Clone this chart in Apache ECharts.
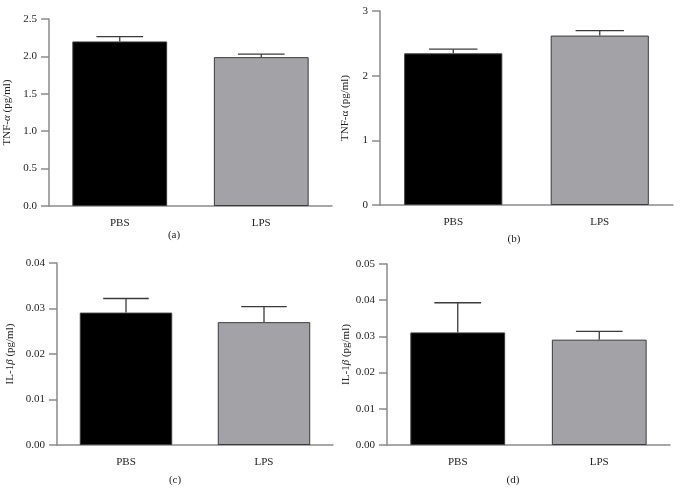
<!DOCTYPE html>
<html>
<head>
<meta charset="utf-8">
<script src="https://cdn.jsdelivr.net/npm/echarts@6/dist/echarts.min.js"></script>
<style>
  html, body { margin: 0; padding: 0; background: #fff; }
  #chart { width: 680px; height: 504px; }
</style>
</head>
<body>
<div id="chart"></div>
<script>
// data
const categories = ['PBS', 'LPS'];
const tnfA = [2.20, 1.99];
const tnfAErr = [0.065, 0.04];
const tnfB = [2.345, 2.62];
const tnfBErr = [0.065, 0.075];
const il1C = [0.0291, 0.0270];
const il1CErr = [0.0031, 0.0034];
const il1D = [0.0311, 0.0291];
const il1DErr = [0.0082, 0.0023];
const panelLabels = ['(a)', '(b)', '(c)', '(d)'];

const FONT = 'Liberation Serif';
const AXIS_COLOR = '#8a8a8a';
const barColors = ['#000000', '#a3a2a7'];

// per panel layout: grid box, y scale, label gap, tick format
const panels = [
  { values: tnfA, errs: tnfAErr, grid: { left: 49, top: 19, width: 283, height: 187 }, max: 2.5, interval: 0.5, digits: 1, nameGap: 36, name: 'TNF-{i|α} (pg/ml)', label: [174, 235] },
  { values: tnfB, errs: tnfBErr, grid: { left: 380, top: 11, width: 293, height: 194 }, max: 3, interval: 1, digits: 0, nameGap: 29, name: 'TNF-{n|α} (pg/ml)', label: [514, 239] },
  { values: il1C, errs: il1CErr, grid: { left: 57, top: 263, width: 276, height: 182 }, max: 0.04, interval: 0.01, digits: 2, nameGap: 41, name: 'IL-1{i|β} (pg/ml)', label: [175, 480] },
  { values: il1D, errs: il1DErr, grid: { left: 387, top: 264, width: 283, height: 181 }, max: 0.05, interval: 0.01, digits: 2, nameGap: 34, name: 'IL-1{i|β} (pg/ml)', label: [513, 480] }
];

function errorBar(params, api) {
  const x = api.value(0);
  const v = api.value(1);
  const e = api.value(2);
  const base = api.coord([x, v]);
  const top = api.coord([x, v + e]);
  const half = api.size([1, 0])[0] * 0.165;
  const style = { stroke: '#3a3a3a', lineWidth: 1.3 };
  return {
    type: 'group',
    children: [
      { type: 'line', shape: { x1: base[0], y1: base[1], x2: top[0], y2: top[1] }, style: style },
      { type: 'line', shape: { x1: top[0] - half, y1: top[1], x2: top[0] + half, y2: top[1] }, style: style }
    ]
  };
}

const option = {
  backgroundColor: '#fff',
  animation: false,
  grid: panels.map(p => p.grid),
  xAxis: panels.map((p, i) => ({
    type: 'category',
    gridIndex: i,
    data: categories,
    axisLine: { lineStyle: { color: AXIS_COLOR, width: 1.5 } },
    axisTick: { alignWithLabel: true, length: 7, lineStyle: { color: AXIS_COLOR, width: 1.5 } },
    axisLabel: { color: '#222', fontFamily: FONT, fontSize: 11, margin: 12 }
  })),
  yAxis: panels.map((p, i) => ({
    type: 'value',
    gridIndex: i,
    min: 0,
    max: p.max,
    interval: p.interval,
    name: p.name,
    nameLocation: 'middle',
    nameRotate: 90,
    nameGap: p.nameGap,
    nameTextStyle: {
      color: '#222', fontFamily: FONT, fontSize: 11,
      rich: {
        i: { fontFamily: FONT, fontSize: 11, fontStyle: 'italic', color: '#222' },
        n: { fontFamily: FONT, fontSize: 11, color: '#222' }
      }
    },
    axisLine: { show: true, lineStyle: { color: AXIS_COLOR, width: 1.5 } },
    axisTick: { show: true, length: 8, lineStyle: { color: AXIS_COLOR, width: 1.5 } },
    axisLabel: {
      color: '#222', fontFamily: FONT, fontSize: 11, margin: 12,
      formatter: v => v.toFixed(p.digits)
    },
    splitLine: { show: false }
  })),
  series: panels.flatMap((p, i) => [
    {
      type: 'bar',
      xAxisIndex: i,
      yAxisIndex: i,
      barWidth: '67%',
      data: p.values.map((v, k) => ({
        value: v,
        itemStyle: { color: barColors[k], borderColor: '#3a3a3a', borderWidth: 1 }
      }))
    },
    {
      type: 'custom',
      xAxisIndex: i,
      yAxisIndex: i,
      z: 5,
      renderItem: errorBar,
      encode: { x: 0, y: 1 },
      data: p.values.map((v, k) => [k, v, p.errs[k]])
    }
  ]),
  graphic: panels.map((p, i) => ({
    type: 'text',
    x: p.label[0],
    y: p.label[1],
    style: {
      text: panelLabels[i],
      font: '11px "Liberation Serif"',
      fill: '#222',
      textAlign: 'center',
      textVerticalAlign: 'middle'
    }
  }))
};

const chart = echarts.init(document.getElementById('chart'));
chart.setOption(option);
</script>
</body>
</html>
